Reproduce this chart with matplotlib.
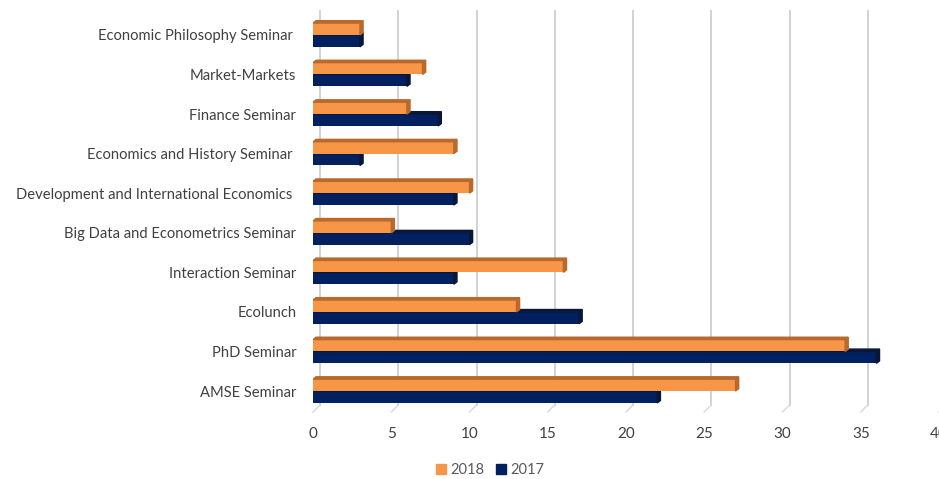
import matplotlib.pyplot as plt
from matplotlib.patches import Polygon, Patch

# dados (de baixo para cima)
categorias = ["AMSE Seminar", "PhD Seminar", "Ecolunch", "Interaction Seminar",
              "Big Data and Econometrics Seminar", "Development and International Economics ",
              "Economics and History Seminar ", "Finance Seminar", "Market-Markets",
              "Economic Philosophy Seminar "]
v2018 = [27, 34, 13, 16, 5, 10, 9, 6, 7, 3]
v2017 = [22, 36, 17, 9, 10, 9, 3, 8, 6, 3]
ticks = [0, 5, 10, 15, 20, 25, 30, 35, 40]

cor18, lado18 = "#F79646", "#B8692C"
cor17, lado17 = "#002060", "#0A1638"

fig = plt.figure(figsize=(9.39, 4.79), dpi=100)
ax = fig.add_axes([313/939, 1 - 412/479, 626/939, 402/479])

h = 0.3
dx, dy = 0.2, 0.06
ax.set_xlim(0, 40)
ax.set_ylim(-0.53, 9.63)

# grade com efeito 3D
for t in ticks:
    ax.plot([t + 0.45, t + 0.45], [-0.35, 9.63], color="#d2d2d2", lw=1.4, zorder=1)
    ax.plot([t, t + 0.45], [-0.53, -0.35], color="#d8d8d8", lw=1.0, zorder=1, clip_on=False)


def barra3d(y, w, cor, lado):
    ax.barh(y, w, height=h, color=cor, zorder=3)
    y0, y1 = y - h/2, y + h/2
    ax.add_patch(Polygon([(w, y0), (w + dx, y0 + dy), (w + dx, y1 + dy), (w, y1)],
                         closed=True, color=lado, zorder=3))
    ax.add_patch(Polygon([(0, y1), (dx, y1 + dy), (w + dx, y1 + dy), (w, y1)],
                         closed=True, color=lado, zorder=3))


for i in range(len(categorias)):
    barra3d(i - h/2, v2017[i], cor17, lado17)
    barra3d(i + h/2, v2018[i], cor18, lado18)

ax.set_yticks(range(len(categorias)))
ax.set_yticklabels(categorias, fontsize=10.6, color="#404040", fontfamily="Lato")
ax.set_xticks(ticks)
ax.set_xticklabels([str(t) for t in ticks], fontsize=11, color="#404040", fontfamily="Lato")
ax.tick_params(length=0, axis="x", pad=11)
ax.tick_params(length=0, axis="y", pad=12)
for s in ax.spines.values():
    s.set_visible(False)

# legenda
fig.legend(handles=[Patch(color=cor18, label="2018"), Patch(color=cor17, label="2017")],
           loc="center", bbox_to_anchor=(490/939, 1 - 470/479), ncol=2, frameon=False,
           prop={"family": "Lato", "size": 10.5}, labelcolor="#595959",
           handlelength=0.7, handleheight=0.7, handletextpad=0.3, columnspacing=0.8)

fig.savefig("out.png", dpi=100)
